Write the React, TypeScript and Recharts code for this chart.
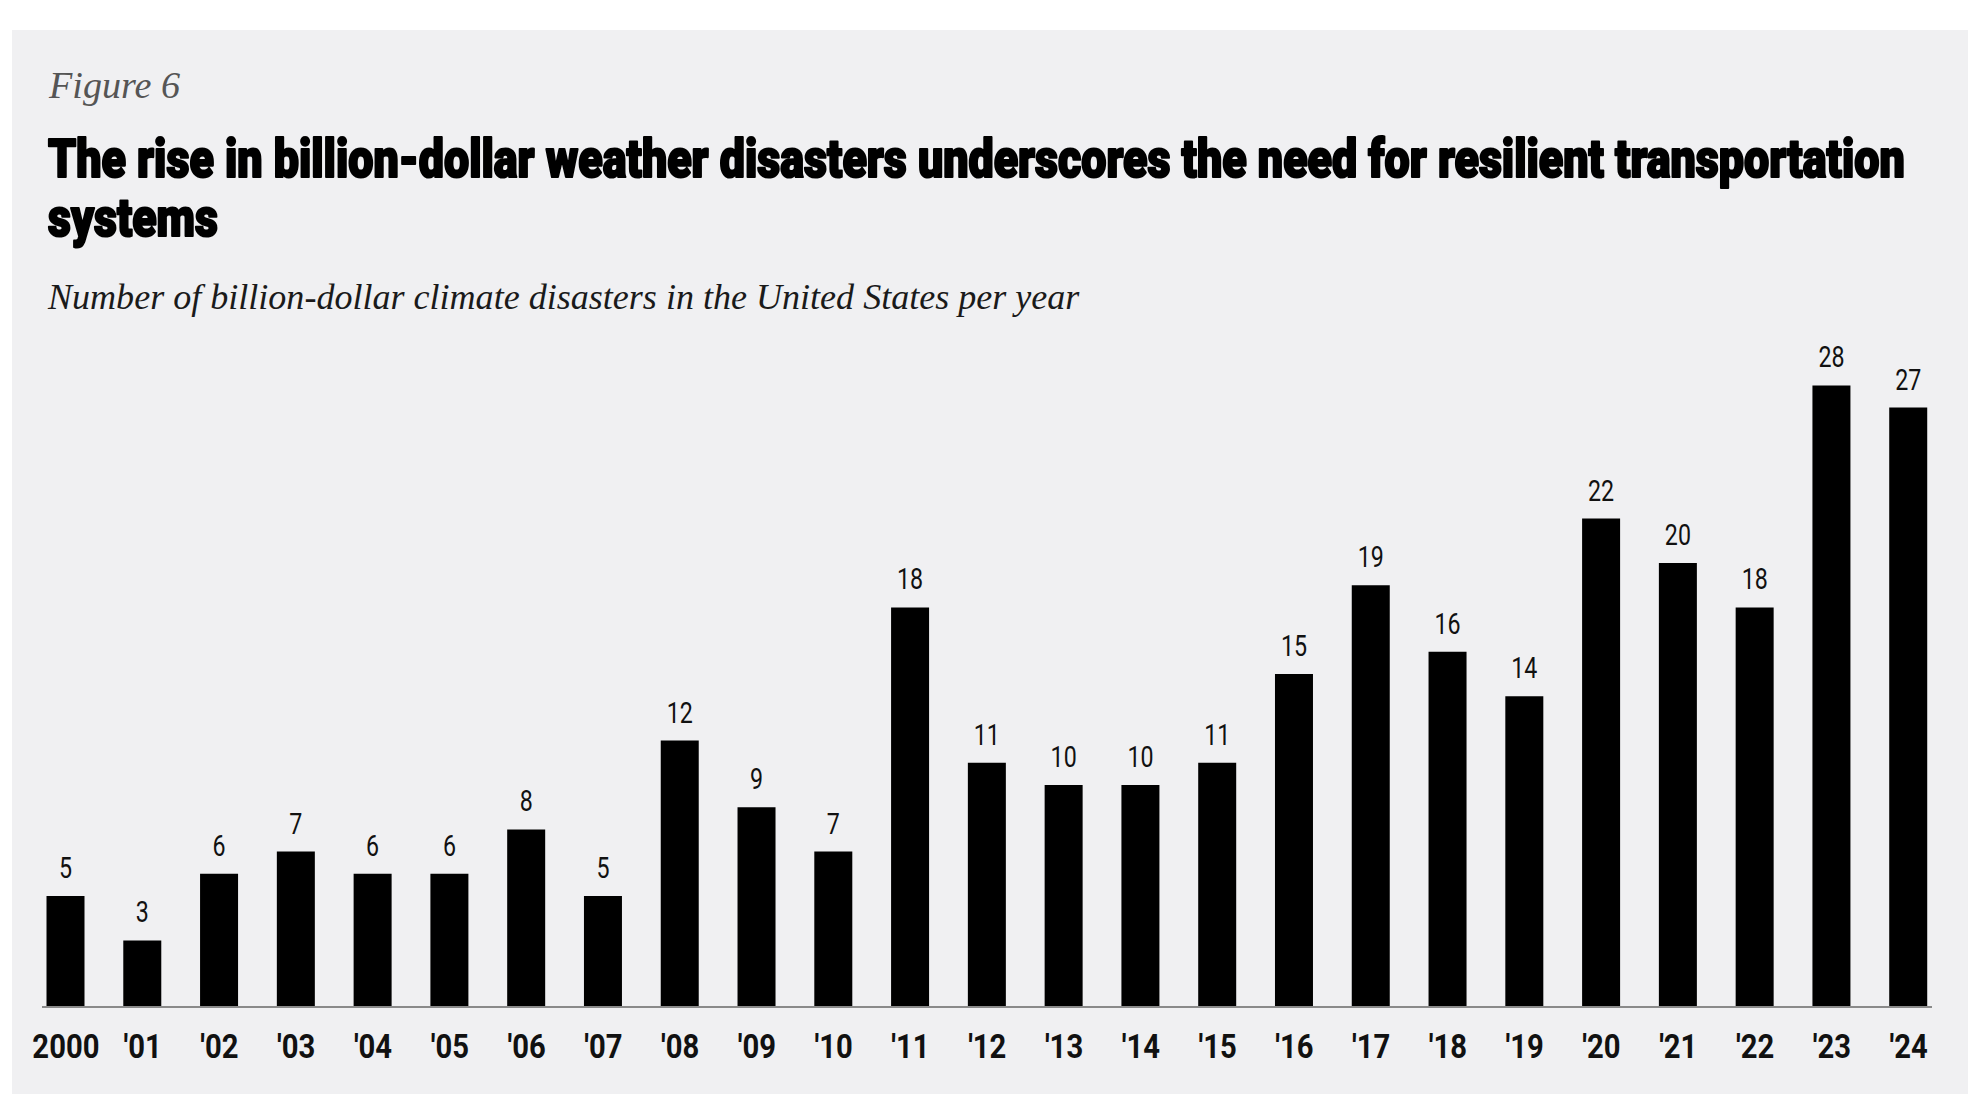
import { useLayoutEffect, useRef, useState } from "react";
import type { JSX } from "react";
import { BarChart, Bar, XAxis, YAxis, LabelList } from "recharts";

// ─── Data ─────────────────────────────────────────────────────────────────────
// Billion-dollar climate disasters in the US, 2000–2024

const years: string[] = [
  "2000", "'01", "'02", "'03", "'04", "'05", "'06", "'07", "'08", "'09",
  "'10", "'11", "'12", "'13", "'14", "'15", "'16", "'17", "'18", "'19",
  "'20", "'21", "'22", "'23", "'24",
];

const disasters: number[] = [
  5, 3, 6, 7, 6, 6, 8, 5, 12, 9,
  7, 18, 11, 10, 10, 11, 15, 19, 16, 14,
  22, 20, 18, 28, 27,
];

const yDomain: [number, number] = [0, 30];

const figureLabel = "Figure 6";
const titleLines: string[] = [
  "The rise in billion-dollar weather disasters underscores the need for resilient transportation",
  "systems",
];
const subtitle = "Number of billion-dollar climate disasters in the United States per year";

const data = years.map((year, i) => ({ year, count: disasters[i] }));

// ─── Styling ──────────────────────────────────────────────────────────────────

const W = 1977;
const H = 1096;
const PANEL_BG = "#f0f0f2";
const SANS = "Roboto, 'Noto Sans', 'DejaVu Sans', sans-serif";
const SERIF = "'Liberation Serif', 'DejaVu Serif', serif";

// ─── FitText ──────────────────────────────────────────────────────────────────
// Squeezes a line of svg text horizontally so it spans a given width

interface FitTextProps {
  x: number;
  y: number;
  width: number;
  children: string;
  [key: string]: any;
}

function FitText({ x, y, width, children, ...rest }: FitTextProps): JSX.Element {
  const ref = useRef<SVGTextElement>(null);
  const [sx, setSx] = useState(1);
  useLayoutEffect(() => {
    if (!ref.current) return;
    const natural = ref.current.getComputedTextLength();
    if (natural > 0) setSx(width / natural);
  }, [width, children]);
  return (
    <g transform={`translate(${x},${y}) scale(${sx},1)`}>
      <text ref={ref} x={0} y={0} {...rest}>
        {children}
      </text>
    </g>
  );
}

// value labels sit above each bar, in a narrowed regular face
function ValueLabel(props: any): JSX.Element | null {
  const { x, y, width, value } = props;
  if (value == null) return null;
  const cx = Number(x) + Number(width) / 2;
  const by = Number(y) - 18;
  return (
    <g transform={`translate(${cx},${by}) scale(0.8,1)`}>
      <text x={0} y={0} textAnchor="middle" fontFamily={SANS} fontSize={29} fill="#111">
        {value}
      </text>
    </g>
  );
}

function YearTick(props: any): JSX.Element {
  const { x, y, payload } = props;
  return (
    <g transform={`translate(${x},${Number(y) + 51}) scale(0.86,1)`}>
      <text x={0} y={0} textAnchor="middle" fontFamily={SANS} fontWeight={700} fontSize={34} fill="#111">
        {payload.value}
      </text>
    </g>
  );
}

function Header(): JSX.Element {
  const titleStyle = {
    fontFamily: SANS,
    fontWeight: 900,
    fontSize: 54,
    fill: "#000",
    stroke: "#000",
    strokeWidth: 2.2,
    strokeLinejoin: "round" as const,
  };
  return (
    <svg width={W} height={330} style={{ position: "absolute", left: 0, top: 0 }}>
      <FitText x={49} y={98} width={131} fontFamily={SERIF} fontStyle="italic" fontSize={38} fill="#555">
        {figureLabel}
      </FitText>
      <FitText x={48} y={177} width={1857} style={titleStyle}>
        {titleLines[0]}
      </FitText>
      <FitText x={48} y={236} width={170} style={titleStyle}>
        {titleLines[1]}
      </FitText>
      <FitText x={48} y={309} width={1032} fontFamily={SERIF} fontStyle="italic" fontSize={36} fill="#1a1a1a">
        {subtitle}
      </FitText>
    </svg>
  );
}

export default function App(): JSX.Element {
  return (
    <div style={{ position: "absolute", left: 0, top: 0, width: W, height: H, background: "#fff", overflow: "hidden" }}>
      <div style={{ position: "absolute", left: 12, top: 30, width: 1956, height: 1064, background: PANEL_BG }} />
      <Header />
      <div style={{ position: "absolute", left: 0, top: 0 }}>
        <BarChart width={W} height={H} data={data} margin={{ top: 341, right: 45, bottom: 29, left: 42 }}>
          <XAxis
            dataKey="year"
            height={60}
            interval={0}
            tickLine={false}
            tickSize={0}
            tickMargin={0}
            axisLine={{ stroke: "#8a8a8a", strokeWidth: 2 }}
            padding={{ left: -14.5, right: -15 }}
            tick={<YearTick />}
          />
          <YAxis hide domain={yDomain} />
          <Bar dataKey="count" fill="#000" barSize={38} isAnimationActive={false}>
            <LabelList dataKey="count" content={<ValueLabel />} />
          </Bar>
        </BarChart>
      </div>
    </div>
  );
}
